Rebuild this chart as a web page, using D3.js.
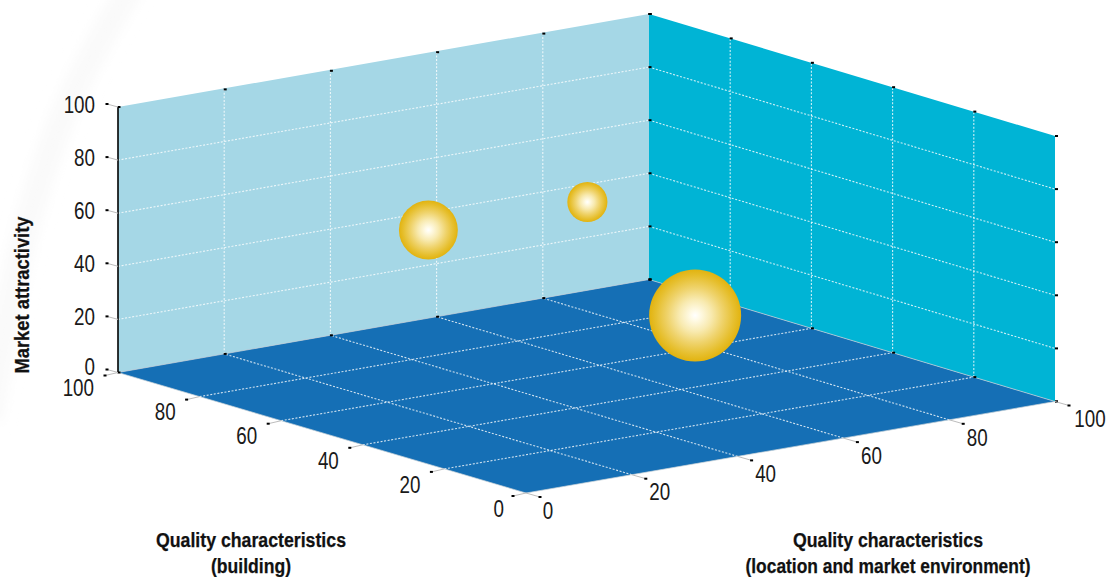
<!DOCTYPE html>
<html><head><meta charset="utf-8">
<script src="https://cdn.jsdelivr.net/npm/d3@7"></script>
<style>
html,body{margin:0;padding:0;background:#fff}
svg{display:block}
text{font-family:"Liberation Sans",Arial,sans-serif;fill:#1a1a1a}
.tick{font-size:23.5px}
.title{font-size:20px;font-weight:bold;fill:#111;stroke:#111;stroke-width:.25px}
</style></head><body>
<script>
// ---- data ----
const xTicks=[0,20,40,60,80,100];
const yTicks=[0,20,40,60,80,100];
const zTicks=[0,20,40,60,80,100];
const bubbleX=[86.5,41.2,61.2];
const bubbleY=[71,77.5,64.5];
const bubbleZ=[4.5,49.5,59];
const bubbleSize=[100,41,19];
const xTitle=["Quality characteristics","(location and market environment)"];
const yTitle=["Quality characteristics","(building)"];
const zTitle="Market attractivity";

// ---- scales ----
const W=1110,H=577;
const s=d3.scaleLinear().domain([0,100]).range([0,1]);
const zS=d3.scaleLinear().domain([0,100]).range([0,265.5]);
const rS=d3.scaleSqrt().domain([0,100]).range([0,46]);
const cD=[526,493],cC=[1055,401.5],cA=[118,372.5],cB=[649,279.5];
function P(x,y,z=0){
  const u=s(x),v=s(y);
  const px=cD[0]*(1-u)*(1-v)+cC[0]*u*(1-v)+cA[0]*(1-u)*v+cB[0]*u*v;
  const py=cD[1]*(1-u)*(1-v)+cC[1]*u*(1-v)+cA[1]*(1-u)*v+cB[1]*u*v;
  return [px,py-zS(z)];
}
const svg=d3.select("body").append("svg").attr("width",W).attr("height",H);
const defs=svg.append("defs");
const grad=defs.append("radialGradient").attr("id","ball");
[[0,"#ffffff"],[.1,"#fffbe8"],[.35,"#f8eab0"],[.6,"#efd36c"],[.85,"#e6bf2e"],[1,"#e2b30f"]]
  .forEach(d=>grad.append("stop").attr("offset",d[0]).attr("stop-color",d[1]));
defs.append("filter").attr("id","soft").attr("x","-50%").attr("width","200%").append("feGaussianBlur").attr("stdDeviation",7);

// faint backdrop swoosh
svg.append("path").attr("d",d3.line().curve(d3.curveBasis)([[135,-20],[70,90],[28,210],[2,340],[-10,420]]))
  .attr("fill","none").attr("stroke","#f9f9f9").attr("stroke-width",24).attr("filter","url(#soft)");

const line=d3.line();
const poly=(pts,c)=>svg.append("path").attr("d",line(pts)+"Z").attr("fill",c);
const lo=0,hi=100;
// walls and floor
poly([P(lo,hi,0),P(hi,hi,0),P(hi,hi,hi),P(lo,hi,hi)],"#a5d7e6");
poly([P(hi,hi,0),P(hi,lo,0),P(hi,lo,hi),P(hi,hi,hi)],"#00b4d5");
poly([P(lo,lo),P(hi,lo),P(hi,hi),P(lo,hi)],"#156fb5");

// grid
const grid=svg.append("g").attr("fill","none").attr("stroke","#fff").attr("stroke-width",1.1)
  .attr("stroke-dasharray","2 1.6").attr("stroke-opacity",.8);
const seg=(a,b)=>grid.append("path").attr("d",line([a,b]));
xTicks.slice(1,-1).forEach(x=>{seg(P(x,lo),P(x,hi));seg(P(x,hi,0),P(x,hi,hi));});
yTicks.slice(1,-1).forEach(y=>{seg(P(lo,y),P(hi,y));seg(P(hi,y,0),P(hi,y,hi));});
zTicks.slice(1,-1).forEach(z=>{seg(P(lo,hi,z),P(hi,hi,z));seg(P(hi,hi,z),P(hi,lo,z));});

// edge lines
const edge=svg.append("g").attr("fill","none").attr("stroke","#c9d3d8").attr("stroke-width",1);
[[P(lo,hi),P(lo,lo)],[P(lo,lo),P(hi,lo)],[P(hi,lo),P(hi,hi)],[P(hi,hi),P(lo,hi)]].forEach(e=>edge.append("path").attr("d",line(e)).attr("stroke-opacity",.7));
svg.append("path").attr("d",line([P(lo,hi,0),P(lo,hi,hi)])).attr("stroke","#000").attr("stroke-width",1.6);

// small black node ticks
const mark=(p,dx=0,dy=0)=>svg.append("rect").attr("x",p[0]+dx-1.5).attr("y",p[1]+dy-1).attr("width",3).attr("height",2).attr("fill","#000");
xTicks.forEach(x=>{mark(P(x,hi,hi),1,x>0&&x<100?1:0);mark(P(x,hi,0),1);});
yTicks.forEach(y=>{mark(P(hi,y,hi),y===0?1.5:1);mark(P(hi,y,0),y===0?1.5:1);});
zTicks.forEach(z=>{mark(P(hi,hi,z),1);mark(P(hi,lo,z),1.5);});

// outer ticks with leaders and labels
const leader=(p,dx,dy)=>{
  svg.append("path").attr("d",line([p,[p[0]+dx,p[1]+dy]])).attr("stroke","#bdbdbd").attr("fill","none");
  mark(p,dx,dy);
};
const label=(p,dx,dy,t,a)=>svg.append("text").attr("class","tick")
  .attr("transform",`translate(${p[0]+dx},${p[1]+dy}) scale(.8,1)`)
  .attr("text-anchor",a).attr("dominant-baseline","central").text(t);
zTicks.forEach(z=>{const p=P(lo,hi,z);leader(p,-11,-3);label(p,-23,z===0?-5:-2,z,"end");});
yTicks.forEach(y=>{const p=P(lo,y);leader(p,-13,3);label(p,y===0?-22:-24,16,y,"end");});
xTicks.forEach(x=>{const p=P(x,lo);leader(p,14,4);label(p,x===100?35:x===0?22:28,x===100?17.5:18,x,"middle");});

// bubbles
bubbleX.forEach((x,i)=>{
  const p=P(x,bubbleY[i],bubbleZ[i]);
  svg.append("circle").attr("cx",p[0]).attr("cy",p[1]).attr("r",rS(bubbleSize[i])).attr("fill","url(#ball)");
});

// titles
const title=(x,y,t,len,rot)=>svg.append("text").attr("class","title")
  .attr("transform",`translate(${x},${y})`+(rot?" rotate(-90)":""))
  .attr("text-anchor","middle").attr("dominant-baseline","central")
  .attr("textLength",len).attr("lengthAdjust","spacingAndGlyphs").text(t);
xTitle.forEach((t,i)=>title(888,540+i*26,t,[190,285][i]));
yTitle.forEach((t,i)=>title(251,540+i*26,t,[190,80][i]));
title(22,295,zTitle,157,true);
</script>
</body></html>
